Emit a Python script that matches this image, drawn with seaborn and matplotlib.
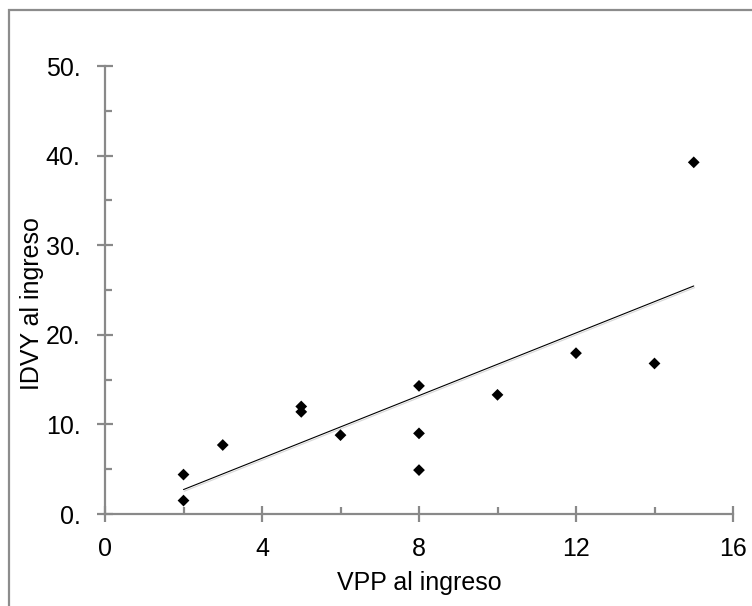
import matplotlib
matplotlib.use("Agg")
import matplotlib.pyplot as plt
import matplotlib.patheffects as pe
from matplotlib.patches import Rectangle
from matplotlib.ticker import MultipleLocator, FuncFormatter
import numpy as np
import pandas as pd
import seaborn as sns

# values
vpp = [2, 2, 3, 5, 5, 6, 8, 8, 8, 10, 12, 14, 15]
idvy = [4.4, 1.5, 7.7, 12.0, 11.4, 8.8, 14.3, 9.0, 4.9, 13.3, 17.95, 16.8, 39.25]
x_ticks = [0, 4, 8, 12, 16]
y_ticks = [0, 10, 20, 30, 40, 50]

df = pd.DataFrame(dict(vpp=vpp, idvy=idvy))

sns.set_theme(style="white")
plt.rcParams["font.family"] = ["Liberation Sans", "DejaVu Sans"]

axis_grey = "#898989"
fs = 18

fig = plt.figure(figsize=(7.52, 6.06), dpi=100)
ax = fig.add_axes([105 / 752, 1 - 514 / 606, 628 / 752, 448 / 606])

sns.regplot(data=df, x="vpp", y="idvy", scatter=False, ci=None, ax=ax,
            line_kws=dict(color="black", linewidth=0.8,
                          path_effects=[pe.SimpleLineShadow(offset=(0.6, -1.2), shadow_color="#bbbbbb", alpha=0.6),
                                        pe.Normal()]))
sns.scatterplot(data=df, x="vpp", y="idvy", marker="D", s=36, color="black",
                edgecolor="none", ax=ax, zorder=3, clip_on=False)

ax.set_xlim(0, 16)
ax.set_ylim(0, 50)
ax.set_xticks(x_ticks)
ax.set_yticks(y_ticks)
ax.xaxis.set_minor_locator(MultipleLocator(2))
ax.yaxis.set_minor_locator(MultipleLocator(5))
ax.yaxis.set_major_formatter(FuncFormatter(lambda v, p: f"{v:.0f}."))

for side in ["top", "right"]:
    ax.spines[side].set_visible(False)
for side in ["left", "bottom"]:
    ax.spines[side].set_color(axis_grey)
    ax.spines[side].set_linewidth(1.6)

ax.tick_params(which="major", direction="inout", length=11, width=1.6,
               color=axis_grey, labelsize=fs, labelcolor="black")
ax.tick_params(which="minor", direction="in", length=5, width=1.6, color=axis_grey)
ax.tick_params(axis="y", which="major", pad=12)
ax.tick_params(axis="x", which="major", pad=11)
ax.tick_params(left=True, bottom=True, which="both")

ax.set_xlabel("VPP al ingreso", fontsize=fs, va="center", color="black")
ax.set_ylabel("IDVY al ingreso", fontsize=fs, va="center", color="black")
ax.xaxis.set_label_coords(0.5, -0.154)
ax.yaxis.set_label_coords(-0.117, 0.47)

# outer chart frame, cut off at right and bottom
fig.patches.append(Rectangle((9 / 752, -0.05), 1.1, 1 - 10 / 606 + 0.05,
                             transform=fig.transFigure, fill=False,
                             edgecolor="#8c8c8c", linewidth=1.6, clip_on=False))

fig.savefig("out.png", dpi=100)
